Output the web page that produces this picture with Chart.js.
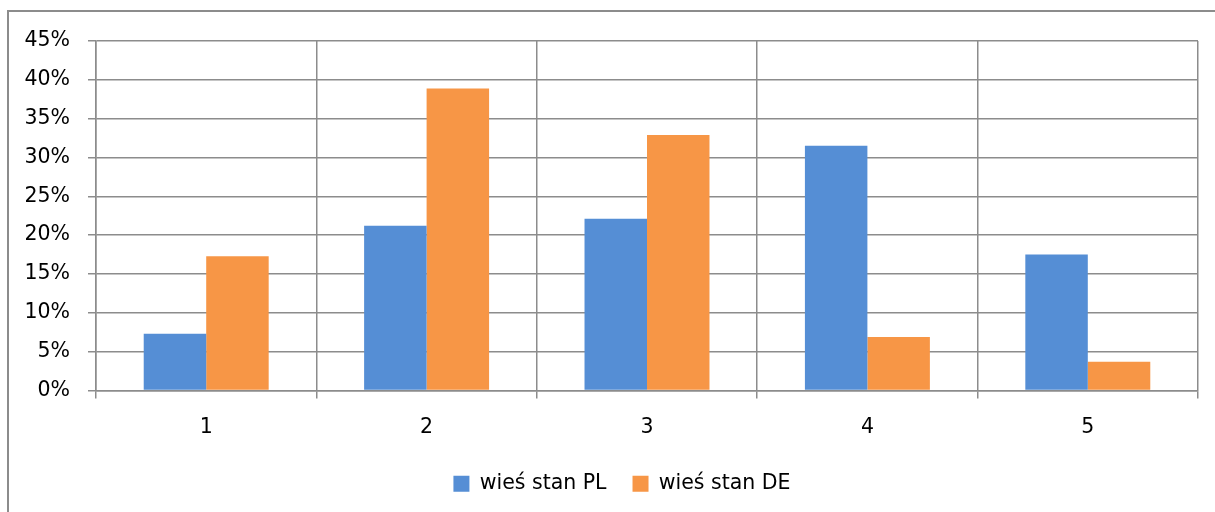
<!DOCTYPE html>
<html>
<head>
<meta charset="utf-8">
<script src="https://cdn.jsdelivr.net/npm/chart.js@4"></script>
<style>
  html, body { margin: 0; padding: 0; background: #fff; overflow: hidden; }
  #ramka {
    position: absolute; left: 7px; top: 10px; width: 1400px; height: 700px;
    border-left: 2px solid #8c8c8c; border-top: 2px solid #8c8c8c;
  }
  #wykres { position: absolute; left: 0; top: 0; }
</style>
</head>
<body>
<div id="ramka"></div>
<canvas id="wykres" width="1215" height="512"></canvas>
<script>
const kategorie = ["1", "2", "3", "4", "5"];
const wiesPL = [7.3, 21.2, 22.1, 31.5, 17.5];
const wiesDE = [17.3, 38.9, 32.9, 6.9, 3.7];
const osY = [0, 5, 10, 15, 20, 25, 30, 35, 40, 45];

const szary = "#8c8c8c";
const czcionka = { family: "DejaVu Sans", size: 20.5 };

// legenda w oryginale jest wyśrodkowana względem całej ramki, która wychodzi poza obraz
const przesunLegende = {
  id: "przesunLegende",
  afterLayout(chart) {
    chart.legend.left += 23;
    chart.legend.right += 23;
  }
};

new Chart(document.getElementById("wykres"), {
  type: "bar",
  data: {
    labels: kategorie,
    datasets: [{
      label: "wieś stan PL",
      data: wiesPL,
      backgroundColor: "#558ed5"
    }, {
      label: "wieś stan DE",
      data: wiesDE,
      backgroundColor: "#f79646"
    }]
  },
  plugins: [przesunLegende],
  options: {
    responsive: false,
    animation: false,
    categoryPercentage: 0.567,
    barPercentage: 1,
    layout: {
      padding: { left: 0, right: 17, top: 41, bottom: 8 }
    },
    plugins: {
      legend: {
        position: "bottom",
        labels: {
          color: "#000",
          font: czcionka,
          boxWidth: 16,
          boxHeight: 16,
          padding: 26
        }
      },
      tooltip: { enabled: false }
    },
    scales: {
      y: {
        min: osY[0],
        max: osY[osY.length - 1],
        afterBuildTicks: (skala) => {
          skala.ticks = osY.map(v => ({ value: v }));
        },
        afterFit: (skala) => { skala.width = 96; },
        ticks: {
          color: "#000",
          font: czcionka,
          padding: 18,
          callback: (v) => v + "%"
        },
        grid: { color: szary, lineWidth: 1.5, tickLength: 8 },
        border: { color: szary, width: 1.5 }
      },
      x: {
        afterFit: (skala) => { skala.height = 57; },
        ticks: {
          color: "#000",
          font: czcionka,
          padding: 17
        },
        grid: { color: szary, lineWidth: 1.5, tickLength: 8, offset: true },
        border: { color: szary, width: 1.5 }
      }
    }
  }
});
</script>
</body>
</html>
